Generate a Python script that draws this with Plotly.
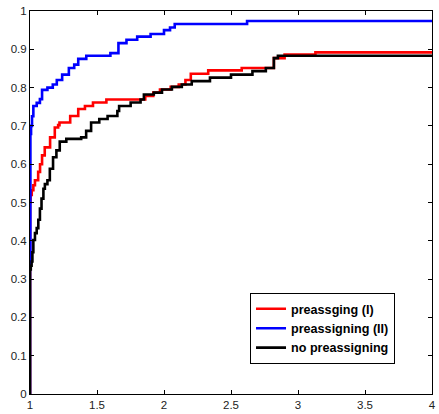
import plotly.graph_objects as go

# Step data (x where step starts, value)
red_x = [1.0, 1.0, 1.004, 1.013, 1.025, 1.037, 1.061, 1.075, 1.09, 1.11, 1.15, 1.185, 1.21, 1.22, 1.30,
         1.36, 1.41, 1.47, 1.57, 1.86, 1.92, 1.97, 2.05, 2.11, 2.16, 2.20, 2.33, 2.58, 2.82, 2.90, 3.13, 4.0]
red_y = [0.0, 0.50, 0.52, 0.532, 0.545, 0.558, 0.58, 0.60, 0.623, 0.644, 0.67, 0.696, 0.702, 0.709, 0.726,
         0.744, 0.752, 0.761, 0.769, 0.778, 0.787, 0.795, 0.802, 0.808, 0.82, 0.836, 0.845, 0.851, 0.877, 0.886, 0.892, 0.892]

blue_x = [1.0, 1.0, 1.003, 1.008, 1.015, 1.025, 1.05, 1.074, 1.09, 1.13, 1.17, 1.20, 1.24, 1.29, 1.33,
          1.36, 1.42, 1.60, 1.66, 1.72, 1.80, 1.90, 2.00, 2.045, 2.08, 2.62, 4.0]
blue_y = [0.0, 0.35, 0.679, 0.70, 0.725, 0.752, 0.76, 0.77, 0.794, 0.80, 0.808, 0.82, 0.834, 0.851, 0.86,
          0.875, 0.883, 0.89, 0.916, 0.925, 0.933, 0.94, 0.95, 0.957, 0.966, 0.974, 0.974]

black_x = [1.0, 1.0, 1.006, 1.012, 1.018, 1.025, 1.037, 1.05, 1.062, 1.074, 1.086, 1.10, 1.111, 1.13, 1.148,
           1.172, 1.197, 1.222, 1.271, 1.382, 1.419, 1.456, 1.517, 1.579, 1.652, 1.665, 1.751, 1.825, 1.85,
           1.924, 1.985, 2.059, 2.133, 2.207, 2.343, 2.50, 2.66, 2.76, 2.82, 2.85, 4.0]
black_y = [0.0, 0.325, 0.335, 0.346, 0.37, 0.402, 0.42, 0.433, 0.455, 0.484, 0.51, 0.536, 0.548, 0.558, 0.588,
           0.618, 0.636, 0.659, 0.666, 0.67, 0.687, 0.709, 0.718, 0.726, 0.739, 0.752, 0.761, 0.769, 0.782,
           0.787, 0.795, 0.802, 0.808, 0.817, 0.826, 0.834, 0.843, 0.851, 0.877, 0.883, 0.883]

names = ["preassging (I)", "preassigning (II)", "no preassigning"]
colors = ["#ff0000", "#0000ff", "#000000"]

x_ticks = [1, 1.5, 2, 2.5, 3, 3.5, 4]
x_labels = ["1", "1.5", "2", "2.5", "3", "3.5", "4"]
y_ticks = [0, 0.1, 0.2, 0.3, 0.4, 0.5, 0.6, 0.7, 0.8, 0.9, 1]
y_labels = ["0", "0.1", "0.2", "0.3", "0.4", "0.5", "0.6", "0.7", "0.8", "0.9", "1"]

fig = go.Figure()
for xs, ys, nm, c in [(red_x, red_y, names[0], colors[0]),
                      (blue_x, blue_y, names[1], colors[1]),
                      (black_x, black_y, names[2], colors[2])]:
    fig.add_trace(go.Scatter(x=xs, y=ys, mode="lines", name=nm,
                             line=dict(color=c, width=2.6, shape="hv")))

axis_common = dict(showgrid=False, zeroline=False, showline=True, linecolor="black", linewidth=1,
                   mirror="ticks", ticks="inside", ticklen=4, tickcolor="black", tickwidth=1,
                   tickfont=dict(family="Liberation Sans, Arial", size=11.5, color="#222222"))

fig.update_xaxes(range=[1, 4], tickvals=x_ticks, ticktext=x_labels, **axis_common)
fig.update_yaxes(range=[0, 1], tickvals=y_ticks, ticktext=y_labels, **axis_common)

fig.update_layout(
    width=439, height=414,
    margin=dict(l=30, r=3, t=11, b=17),
    plot_bgcolor="white", paper_bgcolor="white",
    showlegend=True,
    legend=dict(x=0.908, y=0.078, xanchor="right", yanchor="bottom",
                bgcolor="white", bordercolor="black", borderwidth=1,
                font=dict(family="Liberation Sans, Arial", size=12.6, color="black", weight="bold"),
                tracegroupgap=0),
)

fig.write_html("out.html")
